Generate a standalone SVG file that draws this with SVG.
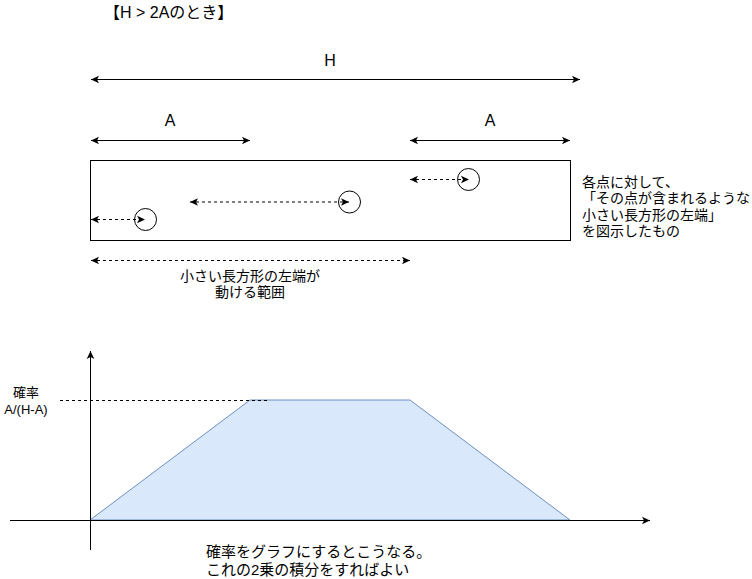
<svg xmlns="http://www.w3.org/2000/svg" width="752" height="579" viewBox="0 0 752 579">
<style>
text{font-family:"Liberation Sans","Noto Sans CJK JP",sans-serif;fill:#000}
.t16{font-size:16px}
.t15{font-size:15px}
.t14{font-size:14px}
.t13{font-size:13px}
.ln{stroke:#000;stroke-width:1;fill:none}
.dash{stroke-dasharray:3 3}
.arr{marker-end:url(#ah);marker-start:url(#ah)}
</style>
<defs>
<marker id="ah" viewBox="-9 -5 10 10" refX="0" refY="0" markerWidth="10" markerHeight="10" markerUnits="userSpaceOnUse" orient="auto-start-reverse">
<path d="M0,0 L-8,-3.8 L-6,0 L-8,3.8 Z" fill="#000"/>
</marker>
<marker id="ahe" viewBox="-9 -5 10 10" refX="0" refY="0" markerWidth="10" markerHeight="10" markerUnits="userSpaceOnUse" orient="auto">
<path d="M0,0 L-8,-3.8 L-6,0 L-8,3.8 Z" fill="#000"/>
</marker>
</defs>
<g id="title"><text class="t16" x="104" y="18">【H &gt; 2Aのとき】</text></g>
<g id="box"><rect x="90.5" y="160.5" width="480" height="80" fill="#fff" stroke="#000"/></g>
<g id="circle1"><circle cx="145.5" cy="219.5" r="11" fill="none" stroke="#000"/></g>
<g id="circle2"><circle cx="349.5" cy="202" r="11" fill="none" stroke="#000"/></g>
<g id="circle3"><circle cx="468.5" cy="179.5" r="11" fill="none" stroke="#000"/></g>
<g id="polygon"><path d="M90,520 L250,400 L410,400 L570,520 Z" fill="#dae8fc" stroke="#6c8ebf"/></g>
<g id="connectors">
<line class="ln arr" x1="91" y1="79.5" x2="580" y2="79.5"/>
<line class="ln arr" x1="91" y1="140.5" x2="250" y2="140.5"/>
<line class="ln arr" x1="410" y1="140.5" x2="570" y2="140.5"/>
<line class="ln arr dash" x1="91" y1="219.5" x2="145" y2="219.5"/>
<line class="ln arr dash" x1="190" y1="202" x2="349" y2="202"/>
<line class="ln arr dash" x1="410" y1="179.5" x2="469" y2="179.5"/>
<line class="ln arr dash" x1="91" y1="260.5" x2="410" y2="260.5"/>
<line class="ln dash" x1="60" y1="400.5" x2="267" y2="400.5"/>
<line class="ln" x1="90.5" y1="550" x2="90.5" y2="351" marker-end="url(#ahe)"/>
<line class="ln" x1="10" y1="520.5" x2="650" y2="520.5" marker-end="url(#ahe)"/>
</g>
<g id="labels">
<text class="t16" x="330" y="66" text-anchor="middle">H</text>
<text class="t16" x="170" y="126" text-anchor="middle">A</text>
<text class="t16" x="490" y="126" text-anchor="middle">A</text>
<text class="t14" x="250" y="281" text-anchor="middle">小さい長方形の左端が</text>
<text class="t14" x="250" y="297" text-anchor="middle">動ける範囲</text>
<text class="t14" x="582" y="187">各点に対して、</text>
<text class="t14" x="582" y="203">「その点が含まれるような</text>
<text class="t14" x="582" y="220">小さい長方形の左端」</text>
<text class="t14" x="582" y="236">を図示したもの</text>
<text class="t13" x="26" y="397" text-anchor="middle">確率</text>
<text class="t13" x="26" y="414" text-anchor="middle">A/(H-A)</text>
<text class="t15" x="206" y="557">確率をグラフにするとこうなる。</text>
<text class="t15" x="206" y="575">これの2乗の積分をすればよい</text>
</g>
</svg>
